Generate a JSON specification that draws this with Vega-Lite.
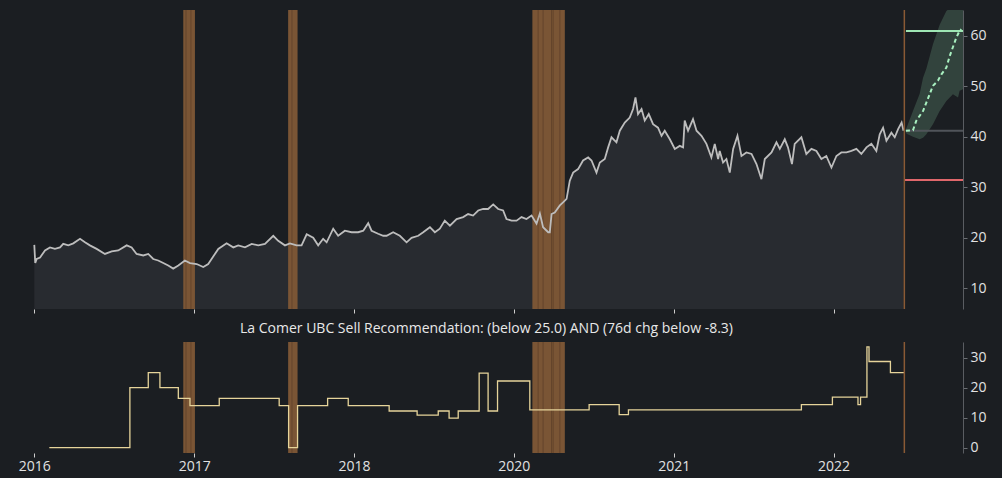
{
  "$schema": "https://vega.github.io/schema/vega-lite/v6.json",
  "background": "#1b1e22",
  "padding": {"left": 10, "top": 9, "right": 16, "bottom": 6},
  "spacing": 8,
  "config": {
    "view": {"stroke": null},
    "font": "Open Sans",
    "axis": {"grid": false, "labelColor": "#e2e2e2", "labelFontSize": 14, "labelFont": "Open Sans", "tickColor": "#6b6e73", "domainColor": "#5a5d62", "tickSize": 4, "title": null},
    "title": {"color": "#e8e8e8", "fontSize": 14, "fontWeight": "normal", "font": "Open Sans"}
  },
  "datasets": {
    "price": [
      {"t":0.0,"v":18.6},{"t":0.006,"v":15.0},{"t":0.015,"v":15.8},{"t":0.036,"v":16.1},{"t":0.067,"v":17.5},{"t":0.098,"v":18.1},{"t":0.129,"v":17.8},{"t":0.161,"v":18.1},{"t":0.181,"v":18.8},{"t":0.213,"v":18.5},{"t":0.244,"v":18.9},{"t":0.286,"v":19.8},{"t":0.317,"v":19.1},{"t":0.348,"v":18.5},{"t":0.39,"v":17.8},{"t":0.442,"v":16.8},{"t":0.484,"v":17.3},{"t":0.525,"v":17.5},{"t":0.578,"v":18.5},{"t":0.609,"v":18.1},{"t":0.64,"v":16.8},{"t":0.682,"v":16.5},{"t":0.713,"v":16.8},{"t":0.744,"v":15.8},{"t":0.775,"v":15.5},{"t":0.807,"v":15.0},{"t":0.838,"v":14.5},{"t":0.869,"v":13.9},{"t":0.901,"v":14.5},{"t":0.942,"v":15.5},{"t":0.974,"v":15.0},{"t":1.016,"v":14.8},{"t":1.057,"v":14.2},{"t":1.088,"v":14.8},{"t":1.109,"v":15.8},{"t":1.151,"v":17.8},{"t":1.203,"v":18.9},{"t":1.245,"v":18.1},{"t":1.276,"v":18.5},{"t":1.318,"v":18.1},{"t":1.36,"v":18.8},{"t":1.401,"v":18.5},{"t":1.443,"v":18.8},{"t":1.495,"v":20.4},{"t":1.526,"v":19.4},{"t":1.568,"v":18.5},{"t":1.599,"v":18.9},{"t":1.641,"v":18.5},{"t":1.672,"v":18.5},{"t":1.704,"v":20.7},{"t":1.745,"v":20.0},{"t":1.776,"v":18.5},{"t":1.807,"v":19.8},{"t":1.829,"v":19.1},{"t":1.87,"v":21.8},{"t":1.901,"v":20.4},{"t":1.943,"v":21.4},{"t":1.985,"v":21.1},{"t":2.026,"v":21.1},{"t":2.058,"v":21.4},{"t":2.089,"v":22.9},{"t":2.11,"v":21.4},{"t":2.151,"v":20.8},{"t":2.183,"v":20.4},{"t":2.204,"v":20.4},{"t":2.245,"v":21.1},{"t":2.287,"v":20.4},{"t":2.329,"v":19.1},{"t":2.36,"v":20.0},{"t":2.402,"v":20.4},{"t":2.433,"v":21.1},{"t":2.475,"v":22.1},{"t":2.506,"v":21.1},{"t":2.537,"v":21.8},{"t":2.568,"v":23.4},{"t":2.6,"v":22.4},{"t":2.642,"v":23.7},{"t":2.683,"v":24.1},{"t":2.714,"v":24.7},{"t":2.745,"v":24.4},{"t":2.777,"v":25.4},{"t":2.808,"v":25.7},{"t":2.839,"v":25.7},{"t":2.871,"v":26.6},{"t":2.902,"v":25.7},{"t":2.933,"v":25.4},{"t":2.954,"v":23.7},{"t":2.986,"v":23.4},{"t":3.017,"v":23.4},{"t":3.048,"v":24.1},{"t":3.079,"v":23.7},{"t":3.111,"v":24.4},{"t":3.142,"v":22.8},{"t":3.163,"v":24.8},{"t":3.183,"v":22.1},{"t":3.215,"v":21.1},{"t":3.225,"v":21.1},{"t":3.236,"v":24.7},{"t":3.256,"v":25.0},{"t":3.288,"v":26.4},{"t":3.308,"v":27.0},{"t":3.33,"v":27.7},{"t":3.35,"v":31.3},{"t":3.371,"v":32.9},{"t":3.402,"v":33.6},{"t":3.433,"v":35.3},{"t":3.465,"v":35.9},{"t":3.486,"v":35.3},{"t":3.517,"v":32.9},{"t":3.538,"v":34.9},{"t":3.569,"v":35.6},{"t":3.59,"v":37.9},{"t":3.611,"v":39.9},{"t":3.642,"v":38.9},{"t":3.663,"v":41.2},{"t":3.694,"v":42.8},{"t":3.725,"v":43.8},{"t":3.746,"v":45.5},{"t":3.761,"v":47.8},{"t":3.777,"v":44.5},{"t":3.799,"v":45.5},{"t":3.819,"v":43.2},{"t":3.844,"v":44.5},{"t":3.871,"v":42.5},{"t":3.902,"v":41.8},{"t":3.924,"v":40.2},{"t":3.944,"v":41.2},{"t":3.976,"v":39.5},{"t":4.007,"v":37.6},{"t":4.038,"v":38.2},{"t":4.059,"v":37.9},{"t":4.069,"v":43.2},{"t":4.09,"v":41.2},{"t":4.121,"v":43.5},{"t":4.143,"v":41.2},{"t":4.174,"v":40.2},{"t":4.205,"v":38.6},{"t":4.236,"v":35.9},{"t":4.257,"v":38.6},{"t":4.278,"v":35.6},{"t":4.288,"v":37.2},{"t":4.309,"v":34.9},{"t":4.33,"v":35.6},{"t":4.351,"v":32.9},{"t":4.372,"v":37.6},{"t":4.399,"v":40.2},{"t":4.424,"v":36.2},{"t":4.455,"v":36.9},{"t":4.487,"v":36.6},{"t":4.518,"v":34.6},{"t":4.549,"v":31.6},{"t":4.57,"v":35.6},{"t":4.612,"v":36.9},{"t":4.643,"v":38.9},{"t":4.664,"v":37.6},{"t":4.695,"v":39.5},{"t":4.715,"v":37.9},{"t":4.74,"v":34.6},{"t":4.757,"v":38.6},{"t":4.799,"v":39.9},{"t":4.83,"v":36.6},{"t":4.862,"v":37.6},{"t":4.893,"v":37.2},{"t":4.924,"v":35.6},{"t":4.955,"v":36.2},{"t":4.987,"v":33.9},{"t":5.018,"v":36.2},{"t":5.049,"v":36.9},{"t":5.081,"v":36.9},{"t":5.112,"v":37.2},{"t":5.143,"v":37.6},{"t":5.174,"v":36.6},{"t":5.206,"v":37.9},{"t":5.237,"v":38.6},{"t":5.268,"v":37.2},{"t":5.289,"v":40.5},{"t":5.31,"v":41.8},{"t":5.331,"v":39.2},{"t":5.362,"v":40.8},{"t":5.383,"v":39.9},{"t":5.404,"v":41.5},{"t":5.426,"v":42.8},{"t":5.438,"v":41.2}
    ],
    "bands": [
      {"t0":0.932,"t1":1.005},{"t0":1.588,"t1":1.647},{"t0":3.116,"t1":3.319}
    ],
    "stripes": [
      {"t":0.949},{"t":0.98},{"t":1.612},{"t":3.152},{"t":3.183},{"t":3.236},{"t":3.246},{"t":3.288}
    ],
    "fband": [
      {"t":5.447,"hi":41.2,"lo":41.2},{"t":5.457,"hi":41.8,"lo":40.6},{"t":5.497,"hi":45.1,"lo":40.0},{"t":5.539,"hi":48.5,"lo":39.5},{"t":5.56,"hi":51.7,"lo":39.8},{"t":5.581,"hi":53.5,"lo":40.5},{"t":5.622,"hi":58.3,"lo":42.5},{"t":5.664,"hi":62.2,"lo":45.1},{"t":5.706,"hi":64.9,"lo":47.1},{"t":5.747,"hi":66,"lo":48.4},{"t":5.779,"hi":66,"lo":47.8},{"t":5.789,"hi":66,"lo":49.1},{"t":5.81,"hi":66,"lo":49.4}
    ],
    "fline": [
      {"t":5.453,"v":41.2},{"t":5.497,"v":41.3},{"t":5.518,"v":43.2},{"t":5.56,"v":45.1},{"t":5.601,"v":48.4},{"t":5.622,"v":50.1},{"t":5.653,"v":51.1},{"t":5.674,"v":52.3},{"t":5.706,"v":53.7},{"t":5.727,"v":56.0},{"t":5.768,"v":59.6},{"t":5.789,"v":61.0},{"t":5.8,"v":61.3}
    ],
    "levels": [
      {"t0":5.453,"t1":5.81,"v":41.2,"kind":"last"},
      {"t0":5.453,"t1":5.81,"v":60.95,"kind":"target"},
      {"t0":5.447,"t1":5.81,"v":31.44,"kind":"stop"}
    ],
    "signal": [
      {"t":0.094,"s":0},{"t":0.598,"s":20},{"t":0.713,"s":25},{"t":0.786,"s":20},{"t":0.901,"s":16.4},{"t":0.974,"s":14},{"t":1.157,"s":16.4},{"t":1.532,"s":14},{"t":1.591,"s":0},{"t":1.647,"s":14},{"t":1.835,"s":16.4},{"t":1.964,"s":14},{"t":2.22,"s":12.2},{"t":2.395,"s":10.8},{"t":2.527,"s":12.2},{"t":2.595,"s":9.8},{"t":2.652,"s":12.2},{"t":2.783,"s":24.8},{"t":2.839,"s":12.2},{"t":2.898,"s":22.2},{"t":3.1,"s":12.6},{"t":3.471,"s":14.3},{"t":3.659,"s":11},{"t":3.717,"s":12.6},{"t":4.799,"s":14.3},{"t":4.993,"s":16.8},{"t":5.153,"s":14.3},{"t":5.169,"s":16.8},{"t":5.209,"s":33.6},{"t":5.222,"s":28.7},{"t":5.356,"s":25},{"t":5.443,"s":25}
    ],
    "cutoff": [{"t":5.443}]
  },
  "vconcat": [
    {
      "width": 953,
      "height": 299,
      "layer": [
        {
          "data": {"name": "price"},
          "mark": {"type": "area", "color": "#282b30", "clip": true},
          "encoding": {
            "x": {"field": "t", "type": "quantitative", "scale": {"domain": [-0.152, 5.81], "nice": false, "zero": false},
                  "axis": {"values": [0,1,2,3,4,5], "labels": false, "domain": false, "tickColor": "#cfcfcf", "tickSize": 4}},
            "y": {"field": "v", "type": "quantitative", "scale": {"domain": [5.9, 65.1], "nice": false, "zero": false},
                  "axis": {"orient": "right", "values": [10,20,30,40,50,60], "labelPadding": 3}}
          }
        },
        {
          "data": {"name": "bands"},
          "mark": {"type": "rect", "color": "#7a5535"},
          "encoding": {"x": {"field": "t0", "type": "quantitative"}, "x2": {"field": "t1"}}
        },
        {
          "data": {"name": "stripes"},
          "mark": {"type": "rule", "color": "#5e4029", "strokeWidth": 1, "opacity": 0.8},
          "encoding": {"x": {"field": "t", "type": "quantitative"}}
        },
        {
          "data": {"name": "price"},
          "mark": {"type": "line", "color": "#bdbdbd", "strokeWidth": 1.8, "clip": true},
          "encoding": {"x": {"field": "t", "type": "quantitative"}, "y": {"field": "v", "type": "quantitative"}}
        },
        {
          "data": {"name": "fband"},
          "mark": {"type": "area", "color": "#8fd6a8", "opacity": 0.2, "clip": true},
          "encoding": {"x": {"field": "t", "type": "quantitative"}, "y": {"field": "hi", "type": "quantitative"}, "y2": {"field": "lo"}}
        },
        {
          "data": {"name": "levels"},
          "mark": {"type": "rule", "strokeWidth": 2, "clip": true},
          "encoding": {
            "x": {"field": "t0", "type": "quantitative"}, "x2": {"field": "t1"},
            "y": {"field": "v", "type": "quantitative"},
            "color": {"field": "kind", "type": "nominal", "scale": {"domain": ["last","target","stop"], "range": ["#50545a","#9ee6b4","#e0676b"]}, "legend": null}
          }
        },
        {
          "data": {"name": "fline"},
          "mark": {"type": "line", "color": "#a8f0c0", "strokeWidth": 2, "strokeDash": [4, 3], "clip": true},
          "encoding": {"x": {"field": "t", "type": "quantitative"}, "y": {"field": "v", "type": "quantitative"}}
        },
        {
          "data": {"name": "cutoff"},
          "mark": {"type": "rule", "color": "#8a5a35", "strokeWidth": 1.5},
          "encoding": {"x": {"field": "t", "type": "quantitative"}}
        }
      ]
    },
    {
      "width": 953,
      "height": 111,
      "title": {"text": "La Comer UBC Sell Recommendation: (below 25.0) AND (76d chg below -8.3)", "anchor": "middle", "offset": 5},
      "layer": [
        {
          "data": {"name": "bands"},
          "mark": {"type": "rect", "color": "#7a5535"},
          "encoding": {
            "x": {"field": "t0", "type": "quantitative", "scale": {"domain": [-0.152, 5.81], "nice": false, "zero": false},
                  "axis": {"values": [0,1,2,3,4,5], "labelExpr": "['2016','2017','2018','2020','2021','2022'][datum.value]", "domain": false, "tickColor": "#cfcfcf", "labelPadding": 2}},
            "x2": {"field": "t1"}
          }
        },
        {
          "data": {"name": "stripes"},
          "mark": {"type": "rule", "color": "#5e4029", "strokeWidth": 1, "opacity": 0.8},
          "encoding": {"x": {"field": "t", "type": "quantitative"}}
        },
        {
          "data": {"name": "signal"},
          "mark": {"type": "line", "color": "#e6d49a", "strokeWidth": 1.3, "interpolate": "step-after"},
          "encoding": {
            "x": {"field": "t", "type": "quantitative"},
            "y": {"field": "s", "type": "quantitative", "scale": {"domain": [-1.8, 35.2], "nice": false, "zero": false},
                  "axis": {"orient": "right", "values": [0,10,20,30], "labelPadding": 3}}
          }
        },
        {
          "data": {"name": "cutoff"},
          "mark": {"type": "rule", "color": "#8a5a35", "strokeWidth": 1.5},
          "encoding": {"x": {"field": "t", "type": "quantitative"}}
        }
      ]
    }
  ]
}
